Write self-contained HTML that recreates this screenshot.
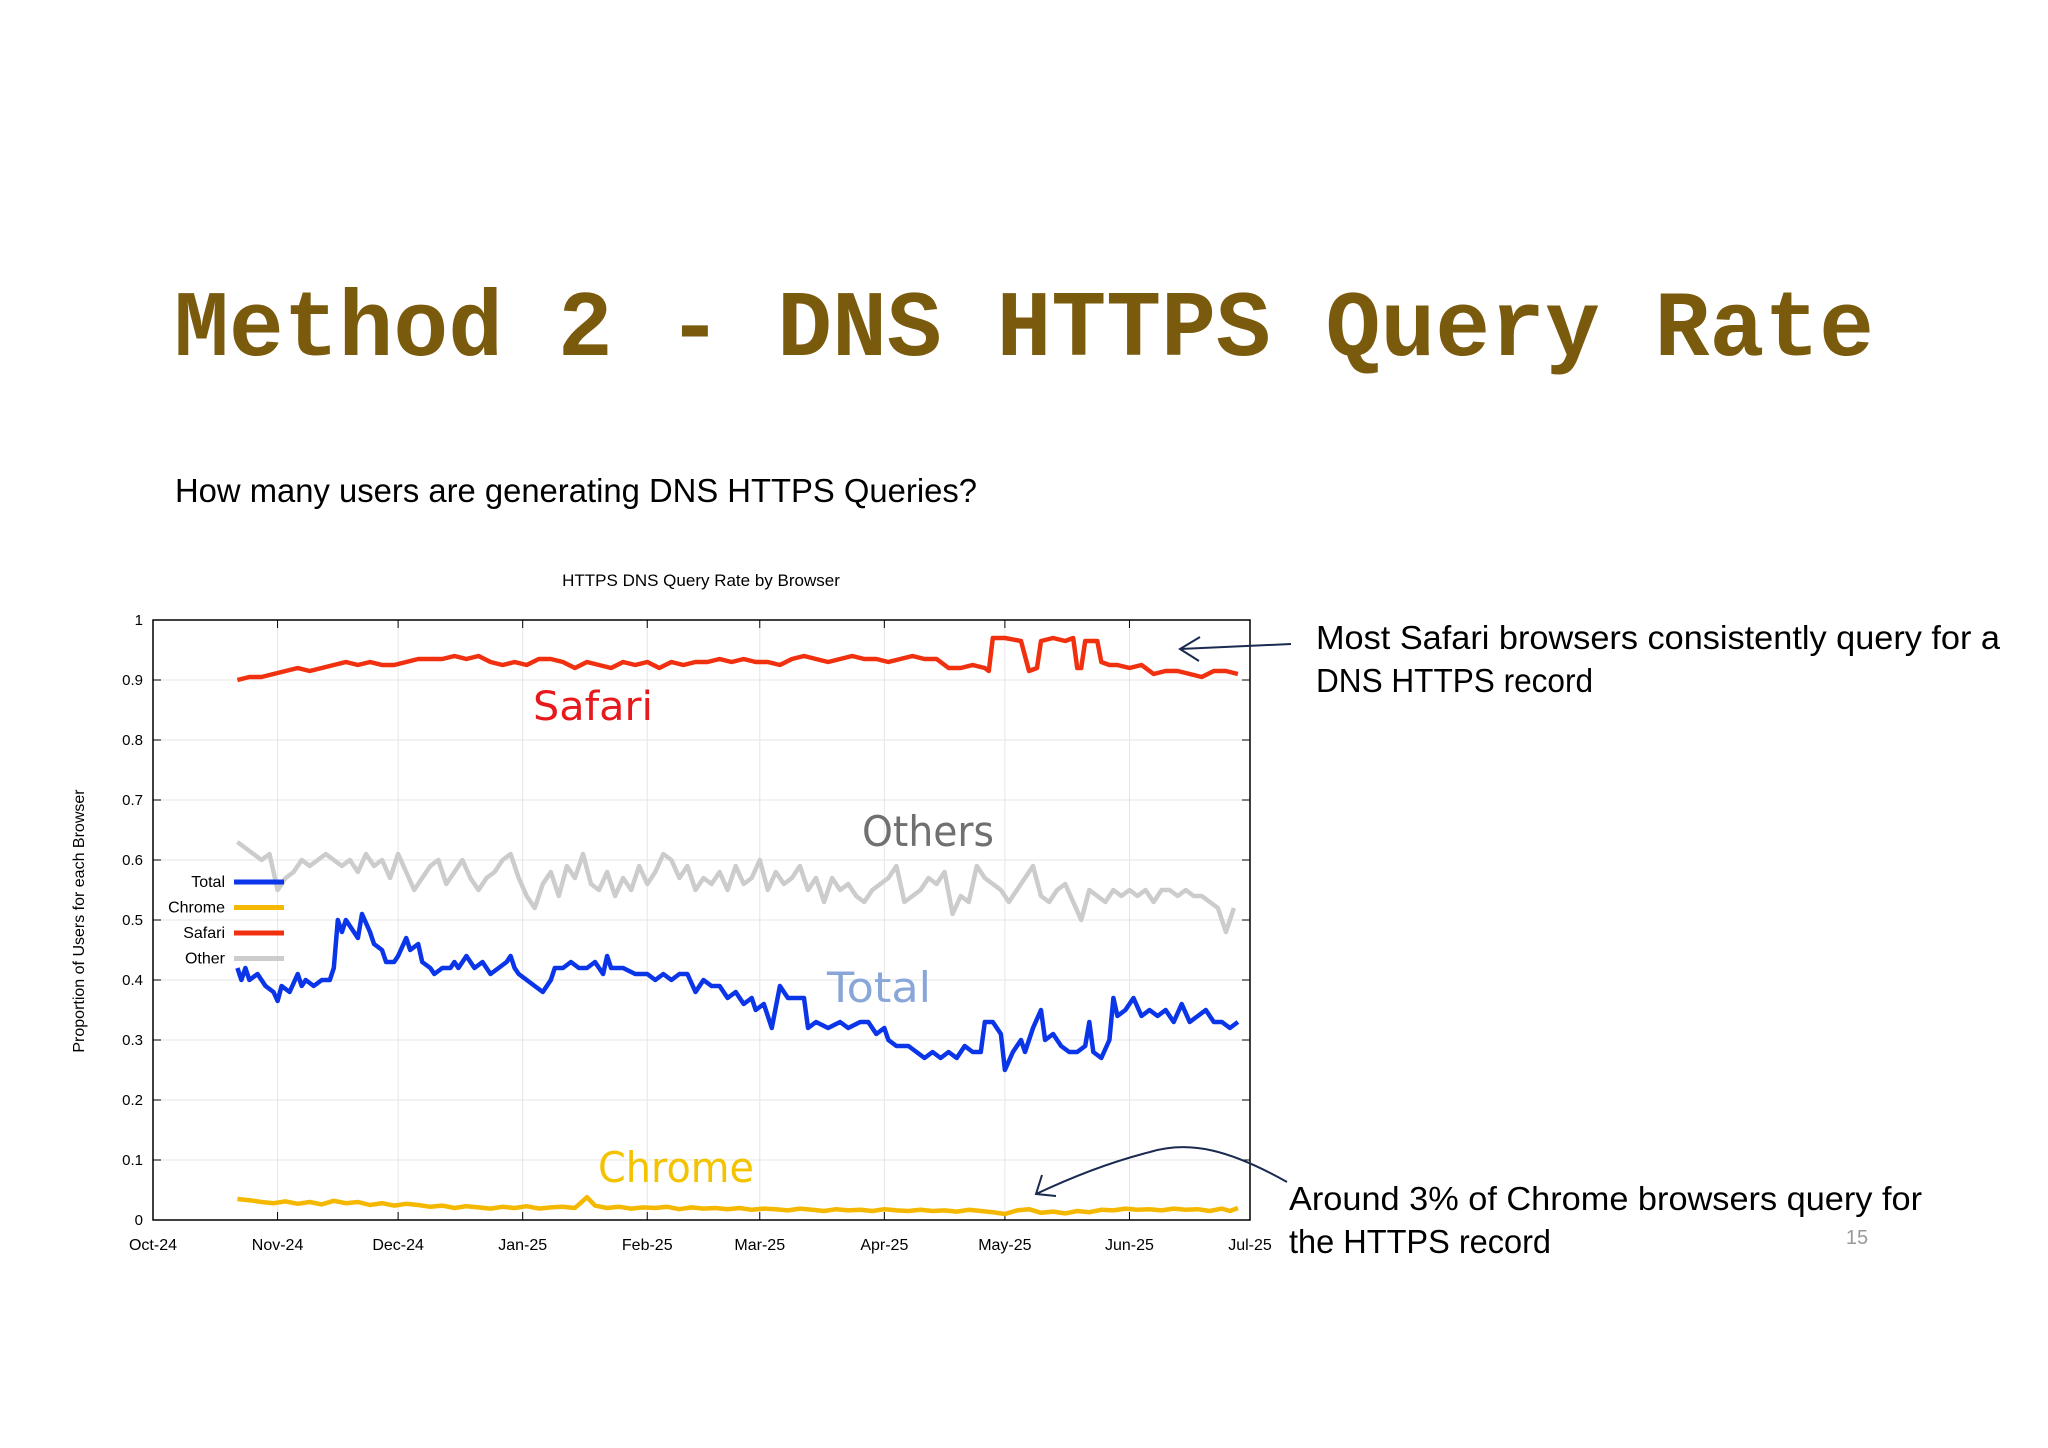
<!DOCTYPE html>
<html><head><meta charset="utf-8"><style>
html,body{margin:0;padding:0;background:#fff;}
svg{display:block;}
</style></head><body>
<svg id="chart" width="2048" height="1448" viewBox="0 0 2048 1448" xmlns="http://www.w3.org/2000/svg">
<rect width="2048" height="1448" fill="#fff"/>
<text x="174" y="355" textLength="1700" lengthAdjust="spacingAndGlyphs" font-family="Liberation Mono, monospace" font-weight="bold" font-size="94" fill="#7a5a0c">Method 2 - DNS HTTPS Query Rate</text>
<text x="175" y="502" textLength="802" lengthAdjust="spacingAndGlyphs" font-family="Liberation Sans, sans-serif" font-size="33" fill="#000">How many users are generating DNS HTTPS Queries?</text>
<text x="701" y="586" text-anchor="middle" font-family="Liberation Sans, sans-serif" font-size="17" fill="#000">HTTPS DNS Query Rate by Browser</text>
<text transform="translate(84,921) rotate(-90)" text-anchor="middle" font-family="Liberation Sans, sans-serif" font-size="16" fill="#000">Proportion of Users for each Browser</text>
<g id="grid"></g>
<g id="axes"></g>
<g id="series"></g>
<g id="legend"></g>
<text x="533" y="720" font-family="DejaVu Sans, sans-serif" font-size="40" fill="#e8191c" textLength="120" lengthAdjust="spacingAndGlyphs">Safari</text>
<text x="862" y="846" font-family="DejaVu Sans, sans-serif" font-size="42" fill="#707070" textLength="132" lengthAdjust="spacingAndGlyphs">Others</text>
<text x="827" y="1002" font-family="DejaVu Sans, sans-serif" font-size="42" fill="#88a6d8" textLength="104" lengthAdjust="spacingAndGlyphs">Total</text>
<text x="598" y="1182" font-family="DejaVu Sans, sans-serif" font-size="42" fill="#f3c300" textLength="156" lengthAdjust="spacingAndGlyphs">Chrome</text>
<text font-family="Liberation Sans, sans-serif" font-size="33" fill="#000"><tspan x="1316" y="649" textLength="684" lengthAdjust="spacingAndGlyphs">Most Safari browsers consistently query for a</tspan><tspan x="1316" y="692" textLength="277" lengthAdjust="spacingAndGlyphs">DNS HTTPS record</tspan></text>
<text font-family="Liberation Sans, sans-serif" font-size="33" fill="#000"><tspan x="1289" y="1210" textLength="633" lengthAdjust="spacingAndGlyphs">Around 3% of Chrome browsers query for</tspan><tspan x="1289" y="1253" textLength="262" lengthAdjust="spacingAndGlyphs">the HTTPS record</tspan></text>
<path d="M1291 644 L1180 649 M1200 637 L1180 649 L1199 661" fill="none" stroke="#1a2a50" stroke-width="2"/>
<path d="M1287 1182 C1230 1150 1190 1140 1150 1152 C1110 1162 1070 1178 1036 1194 M1042 1175 L1036 1194 L1056 1196" fill="none" stroke="#1a2a50" stroke-width="2"/>
<text x="1857" y="1244" text-anchor="middle" font-family="Liberation Sans, sans-serif" font-size="20" fill="#999">15</text>
</svg>
<script>
const yTicks=[0,0.1,0.2,0.3,0.4,0.5,0.6,0.7,0.8,0.9,1];
const yTickLabels=["0","0.1","0.2","0.3","0.4","0.5","0.6","0.7","0.8","0.9","1"];
const xTickDays=[0,31,61,92,123,151,182,212,243,273];
const xTickLabels=["Oct-24","Nov-24","Dec-24","Jan-25","Feb-25","Mar-25","Apr-25","May-25","Jun-25","Jul-25"];
const totalDays=[21,22,23,24,26,28,30,31,32,34,36,37,38,40,42,44,45,46,47,48,50,51,52,54,55,57,58,60,61,63,64,66,67,69,70,72,74,75,76,78,80,82,84,86,88,89,90,91,93,95,97,99,100,102,104,106,108,110,112,113,114,117,120,123,125,127,129,131,133,135,137,139,141,143,145,147,149,150,152,154,156,158,162,163,165,168,171,173,176,178,180,182,183,185,188,190,192,194,196,198,200,202,204,206,207,209,211,212,214,216,217,219,221,222,224,226,228,230,232,233,234,236,238,239,240,242,244,246,248,250,252,254,256,258,260,262,264,266,268,270];
const totalValues=[0.42,0.40,0.42,0.40,0.41,0.39,0.38,0.365,0.39,0.38,0.41,0.39,0.40,0.39,0.40,0.40,0.42,0.50,0.48,0.50,0.48,0.47,0.51,0.48,0.46,0.45,0.43,0.43,0.44,0.47,0.45,0.46,0.43,0.42,0.41,0.42,0.42,0.43,0.42,0.44,0.42,0.43,0.41,0.42,0.43,0.44,0.42,0.41,0.40,0.39,0.38,0.40,0.42,0.42,0.43,0.42,0.42,0.43,0.41,0.44,0.42,0.42,0.41,0.41,0.40,0.41,0.40,0.41,0.41,0.38,0.40,0.39,0.39,0.37,0.38,0.36,0.37,0.35,0.36,0.32,0.39,0.37,0.37,0.32,0.33,0.32,0.33,0.32,0.33,0.33,0.31,0.32,0.30,0.29,0.29,0.28,0.27,0.28,0.27,0.28,0.27,0.29,0.28,0.28,0.33,0.33,0.31,0.25,0.28,0.30,0.28,0.32,0.35,0.30,0.31,0.29,0.28,0.28,0.29,0.33,0.28,0.27,0.30,0.37,0.34,0.35,0.37,0.34,0.35,0.34,0.35,0.33,0.36,0.33,0.34,0.35,0.33,0.33,0.32,0.33];
const safariDays=[21,24,27,30,33,36,39,42,45,48,
51,54,57,60,63,66,69,72,75,78,
81,84,87,90,93,96,99,102,105,108,
111,114,117,120,123,126,129,132,135,138,
141,144,147,150,153,156,159,162,165,168,
171,174,177,180,183,186,189,192,195,198,
201,204,207,208,209,212,216,218,220,221,
224,227,229,230,231,232,235,236,238,240,
243,246,249,252,255,258,261,264,267,270];
const safariValues=[0.90,0.905,0.905,0.91,0.915,0.92,0.915,0.92,0.925,0.93,
0.925,0.93,0.925,0.925,0.93,0.935,0.935,0.935,0.94,0.935,
0.94,0.93,0.925,0.93,0.925,0.935,0.935,0.93,0.92,0.93,
0.925,0.92,0.93,0.925,0.93,0.92,0.93,0.925,0.93,0.93,
0.935,0.93,0.935,0.93,0.93,0.925,0.935,0.94,0.935,0.93,
0.935,0.94,0.935,0.935,0.93,0.935,0.94,0.935,0.935,0.92,
0.92,0.925,0.92,0.915,0.97,0.97,0.965,0.915,0.92,0.965,
0.97,0.965,0.97,0.92,0.92,0.965,0.965,0.93,0.925,0.925,
0.92,0.925,0.91,0.915,0.915,0.91,0.905,0.915,0.915,0.91];
const chromeDays=[21,24,27,30,33,36,39,42,45,48,51,54,57,60,63,66,69,72,75,78,81,84,87,90,93,96,99,102,105,108,110,113,116,119,122,125,128,131,134,137,140,143,146,149,152,155,158,161,164,167,170,173,176,179,182,185,188,191,194,197,200,203,206,209,212,215,218,221,224,227,230,233,236,239,242,245,248,251,254,257,260,263,266,268,270];
const chromeValues=[0.035,0.033,0.030,0.028,0.031,0.027,0.030,0.026,0.032,0.028,0.030,0.025,0.028,0.024,0.027,0.025,0.022,0.024,0.020,0.023,0.021,0.019,0.022,0.020,0.023,0.019,0.021,0.022,0.020,0.038,0.024,0.020,0.022,0.019,0.021,0.020,0.022,0.018,0.021,0.019,0.020,0.018,0.020,0.017,0.019,0.018,0.016,0.019,0.017,0.015,0.018,0.016,0.017,0.015,0.018,0.016,0.015,0.017,0.015,0.016,0.014,0.017,0.015,0.013,0.010,0.016,0.018,0.012,0.014,0.011,0.015,0.013,0.017,0.016,0.019,0.017,0.018,0.016,0.019,0.017,0.018,0.015,0.019,0.015,0.020];
const otherDays=[21,23,25,27,29,31,33,35,37,39,
41,43,45,47,49,51,53,55,57,59,
61,63,65,67,69,71,73,75,77,79,
81,83,85,87,89,91,93,95,97,99,
101,103,105,107,109,111,113,115,117,119,
121,123,125,127,129,131,133,135,137,139,
141,143,145,147,149,151,153,155,157,159,
161,163,165,167,169,171,173,175,177,179,
181,183,185,187,189,191,193,195,197,199,
201,203,205,207,209,211,213,215,217,219,
221,223,225,227,229,231,233,235,237,239,
241,243,245,247,249,251,253,255,257,259,
261,263,265,267,269];
const otherValues=[0.63,0.62,0.61,0.60,0.61,0.55,0.57,0.58,0.60,0.59,
0.60,0.61,0.60,0.59,0.60,0.58,0.61,0.59,0.60,0.57,
0.61,0.58,0.55,0.57,0.59,0.60,0.56,0.58,0.60,0.57,
0.55,0.57,0.58,0.60,0.61,0.57,0.54,0.52,0.56,0.58,
0.54,0.59,0.57,0.61,0.56,0.55,0.58,0.54,0.57,0.55,
0.59,0.56,0.58,0.61,0.60,0.57,0.59,0.55,0.57,0.56,
0.58,0.55,0.59,0.56,0.57,0.60,0.55,0.58,0.56,0.57,
0.59,0.55,0.57,0.53,0.57,0.55,0.56,0.54,0.53,0.55,
0.56,0.57,0.59,0.53,0.54,0.55,0.57,0.56,0.58,0.51,
0.54,0.53,0.59,0.57,0.56,0.55,0.53,0.55,0.57,0.59,
0.54,0.53,0.55,0.56,0.53,0.50,0.55,0.54,0.53,0.55,
0.54,0.55,0.54,0.55,0.53,0.55,0.55,0.54,0.55,0.54,
0.54,0.53,0.52,0.48,0.52];

const NS="http://www.w3.org/2000/svg";
const L=153,R=1250,T=620,B=1220,SPAN=273;
function xs(d){return L+d*(R-L)/SPAN;}
function ys(v){return B-v*(B-T);}
function mk(tag,attrs,parent){const e=document.createElementNS(NS,tag);for(const k in attrs)e.setAttribute(k,attrs[k]);parent.appendChild(e);return e;}
const grid=document.getElementById('grid'),axes=document.getElementById('axes'),series=document.getElementById('series'),legend=document.getElementById('legend');
mk('rect',{x:L,y:T,width:R-L,height:B-T,fill:'#fff'},grid);
yTicks.forEach((v,i)=>{
  const g=mk('line',{x1:L,x2:R,y1:ys(v),y2:ys(v),stroke:'#e6e6e6','stroke-width':1},grid);
  
  
  mk('line',{x1:L,x2:L+8,y1:ys(v),y2:ys(v),stroke:'#000','stroke-width':1},axes);
  mk('line',{x1:R-8,x2:R,y1:ys(v),y2:ys(v),stroke:'#000','stroke-width':1},axes);
  const t=mk('text',{x:L-10,y:ys(v)+5,'text-anchor':'end','font-family':'Liberation Sans, sans-serif','font-size':15,fill:'#000'},axes);
  t.textContent=yTickLabels[i];
  
  
});
xTickDays.forEach((d,i)=>{
  const g=mk('line',{x1:xs(d),x2:xs(d),y1:T,y2:B,stroke:'#e6e6e6','stroke-width':1},grid);
  
  
  mk('line',{x1:xs(d),x2:xs(d),y1:B-8,y2:B,stroke:'#000','stroke-width':1},axes);
  mk('line',{x1:xs(d),x2:xs(d),y1:T,y2:T+8,stroke:'#000','stroke-width':1},axes);
  const t=mk('text',{x:xs(d),y:B+30,'text-anchor':'middle','font-family':'Liberation Sans, sans-serif','font-size':16,fill:'#000'},axes);
  t.textContent=xTickLabels[i];
  
  
});
const frame=mk('rect',{x:L,y:T,width:R-L,height:B-T,fill:'none',stroke:'#000','stroke-width':1.5},axes);


function line(days,vals,color,name){
  const n=Math.min(days.length,vals.length);
  const pts=[];
  for(let i=0;i<n;i++)pts.push((i?'L':'M')+xs(days[i]).toFixed(1)+' '+ys(vals[i]).toFixed(1));
  const p=mk('path',{d:pts.join(' '),fill:'none',stroke:color,'stroke-width':4.5,'stroke-linejoin':'round'},series);
  
  
}
line(otherDays,otherValues,'#cccccc','other-line');
line(chromeDays,chromeValues,'#f5b800','chrome-line');
line(safariDays,safariValues,'#f0300f','safari-line');
line(totalDays,totalValues,'#0a35e8','total-line');
const legNames=["Total","Chrome","Safari","Other"],legColors=['#0a35e8','#f5b800','#f0300f','#cccccc'];
legNames.forEach((n,i)=>{
  const y=882+i*25.5;
  const t=mk('text',{x:225,y:y+5,'text-anchor':'end','font-family':'Liberation Sans, sans-serif','font-size':16,fill:'#000'},legend);
  t.textContent=n;
  
  
  mk('line',{x1:234,x2:284,y1:y,y2:y,stroke:legColors[i],'stroke-width':5},legend);
});
</script>
</body></html>
